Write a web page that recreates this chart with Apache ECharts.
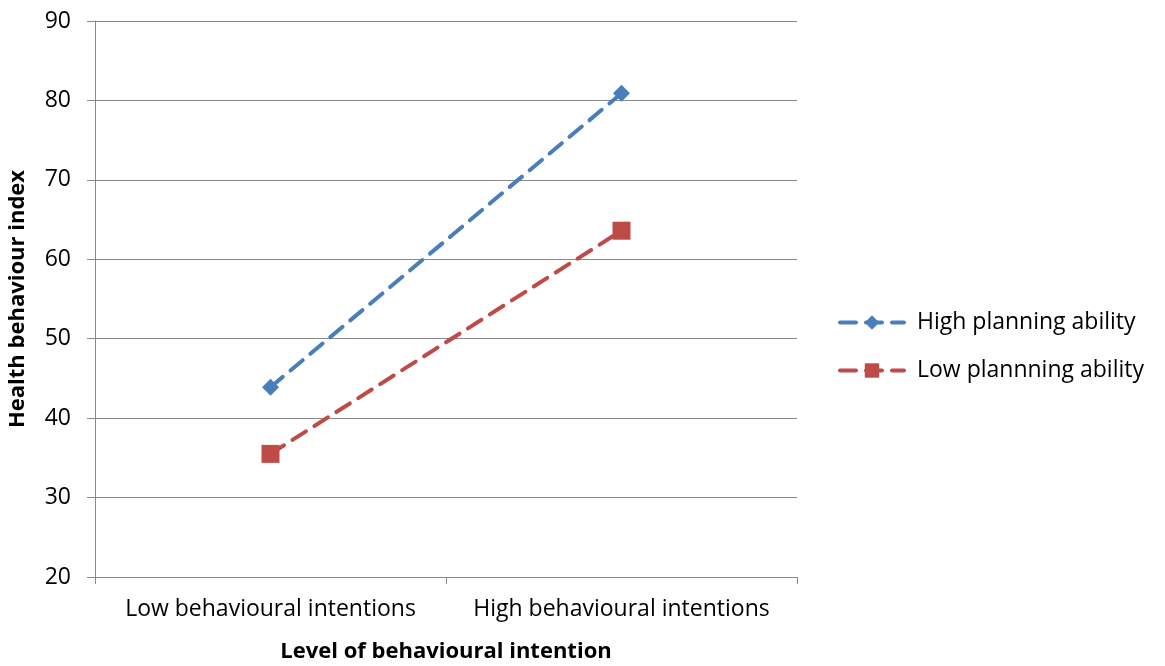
<!DOCTYPE html>
<html>
<head>
<meta charset="utf-8">
<script src="https://cdn.jsdelivr.net/npm/echarts@6/dist/echarts.min.js"></script>
<style>
  html, body { margin: 0; padding: 0; background: #fff; }
  #chart { width: 1165px; height: 666px; }
</style>
</head>
<body>
<div id="chart"></div>
<script>
// Interaction plot: behavioural intention level vs health behaviour index
const categories = ['Low behavioural intentions', 'High behavioural intentions'];
const highPlanning = [43.9, 80.9];
const lowPlanning = [35.5, 63.6];
const seriesNames = ['High planning ability', 'Low plannning ability'];
const yTicks = { min: 20, max: 90, interval: 10 };

const font = '"Open Sans", "Liberation Sans", sans-serif';
const gridColor = '#888888';

const chart = echarts.init(document.getElementById('chart'));
chart.setOption({
  animation: false,
  textStyle: { fontFamily: font },
  grid: { left: 95, right: 368, top: 21, bottom: 89, containLabel: false, outerBoundsMode: 'none' },
  legend: {
    orient: 'vertical',
    left: 838,
    top: 311,
    padding: 0,
    itemGap: 25,
    itemWidth: 64,
    itemHeight: 18,
    textStyle: { fontSize: 23, color: '#000', fontFamily: font, padding: [0, 0, 0, 8] },
    lineStyle: { width: 4 },
    data: seriesNames
  },
  xAxis: {
    type: 'category',
    data: categories,
    boundaryGap: true,
    name: 'Level of behavioural intention',
    nameLocation: 'middle',
    nameGap: 64,
    nameTextStyle: { fontSize: 22, fontWeight: 'bold', color: '#000' },
    axisLine: { lineStyle: { color: gridColor, width: 1 } },
    axisTick: { show: true, length: 7, inside: false, alignWithLabel: false, lineStyle: { color: gridColor } },
    axisLabel: { fontSize: 23, color: '#000', margin: 21, interval: 0, hideOverlap: false },
    splitLine: { show: false }
  },
  yAxis: {
    type: 'value',
    min: yTicks.min,
    max: yTicks.max,
    interval: yTicks.interval,
    name: 'Health behaviour index',
    nameLocation: 'middle',
    nameGap: 66,
    nameRotate: 90,
    nameTextStyle: { fontSize: 22, fontWeight: 'bold', color: '#000' },
    axisLine: { show: true, lineStyle: { color: gridColor, width: 1 } },
    axisTick: { show: true, length: 8, lineStyle: { color: gridColor } },
    axisLabel: { fontSize: 23, color: '#000', margin: 24 },
    splitLine: { show: true, lineStyle: { color: gridColor, width: 1 } }
  },
  series: [
    {
      name: seriesNames[0],
      type: 'line',
      data: highPlanning,
      symbol: 'diamond',
      symbolSize: 17,
      color: '#4a7ebb',
      lineStyle: { width: 4, type: [16, 10], cap: 'round', color: '#4a7ebb' },
      itemStyle: { color: '#4a7ebb' }
    },
    {
      name: seriesNames[1],
      type: 'line',
      data: lowPlanning,
      symbol: 'rect',
      symbolSize: 18,
      color: '#be4b48',
      lineStyle: { width: 4, type: [16, 10], cap: 'round', color: '#be4b48' },
      itemStyle: { color: '#be4b48' }
    }
  ]
});
</script>
</body>
</html>
